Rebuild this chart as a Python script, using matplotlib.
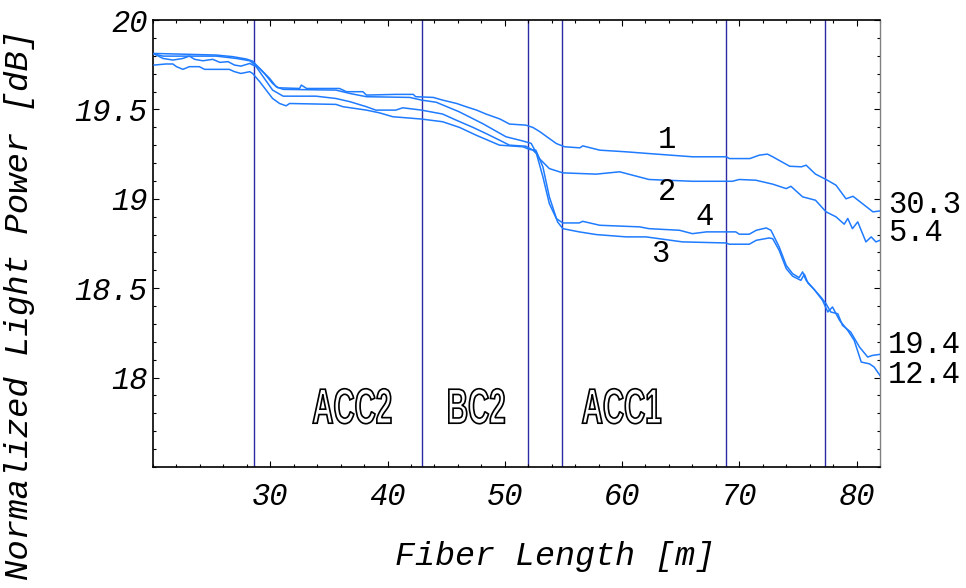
import numpy as np
import matplotlib
matplotlib.use('Agg')
from matplotlib import pyplot as plt
from matplotlib.textpath import TextPath
from matplotlib.patches import PathPatch
from matplotlib.font_manager import FontProperties
from matplotlib.transforms import Affine2D, ScaledTranslation
from matplotlib.ticker import MultipleLocator, FuncFormatter

# Curve 1 (top, ends 30.3)
c1_x = [20.1, 25.4, 26.8, 27.95, 28.5, 29.5, 30.2, 30.65, 32.5, 32.65, 33.1, 35.9, 36.5, 37.9,
        38.2, 40.7, 42.2, 42.4, 43.9, 44.7, 45.9, 46.7, 47.6, 48.4, 49.6, 50.4, 51.8, 52.4,
        53.0, 53.8, 54.4, 55.1, 56.4, 56.65, 58.1, 60.3, 62.3, 66.0, 68.9, 69.15, 70.9, 71.7,
        72.4, 72.85, 74.3, 75.3, 75.7, 76.5, 77.4, 78.25, 79.1, 79.7, 80.5, 81.4, 82.0]
c1_y = [19.813, 19.804, 19.795, 19.782, 19.77, 19.701, 19.645, 19.621, 19.617, 19.636, 19.617,
        19.617, 19.599, 19.599, 19.58, 19.584, 19.584, 19.571, 19.567, 19.552, 19.533, 19.515,
        19.496, 19.474, 19.446, 19.418, 19.412, 19.399, 19.375, 19.337, 19.309, 19.291, 19.285,
        19.296, 19.272, 19.263, 19.253, 19.235, 19.235, 19.225, 19.225, 19.244, 19.25, 19.235,
        19.182, 19.179, 19.188, 19.138, 19.108, 19.076, 19.0, 19.014, 18.973, 18.927, 18.932]

# Curve 2 (ends 5.4)
c2_x = [20.1, 20.85, 25.4, 27.1, 28.25, 29.1, 29.95, 30.5, 31.1, 35.6, 36.8, 38.2, 41.9, 42.9,
        44.15, 46.1, 48.1, 50.1, 51.5, 52.25, 52.95, 53.8, 54.95, 57.8, 59.8, 60.9, 62.3, 66.0,
        69.4, 70.0, 71.4, 72.85, 74.0, 74.4, 75.4, 76.5, 77.4, 78.25, 78.95, 79.25, 79.65, 80.1,
        80.8, 81.25, 81.65, 82.0]
c2_y = [19.81, 19.798, 19.798, 19.785, 19.772, 19.729, 19.673, 19.627, 19.612, 19.608, 19.589,
        19.571, 19.567, 19.552, 19.54, 19.487, 19.421, 19.347, 19.324, 19.31, 19.225, 19.169,
        19.145, 19.138, 19.151, 19.132, 19.108, 19.098, 19.098, 19.108, 19.104, 19.082, 19.057,
        19.07, 19.011, 18.992, 18.927, 18.899, 18.858, 18.89, 18.833, 18.871, 18.759, 18.787,
        18.759, 18.768]

# Curve 3 (lowest, ends 12.4)
c3_x = [20.1, 21.1, 21.7, 22.0, 22.55, 23.1, 23.95, 24.4, 26.5, 26.95, 27.5, 28.25, 28.5, 29.1,
        29.65, 30.2, 30.8, 31.35, 31.65, 35.6, 36.2, 38.2, 39.3, 40.45, 42.9, 44.7, 46.15, 47.55,
        49.55, 51.55, 52.1, 52.65, 53.25, 53.8, 54.5, 54.95, 56.35, 57.8, 60.35, 62.05, 65.15,
        68.85, 69.15, 70.85, 71.45, 72.55, 72.85, 73.4, 74.0, 74.55, 75.25, 75.55, 75.85, 76.4,
        77.1, 77.55, 77.95, 78.55, 79.25, 79.8, 80.4, 81.1, 81.5, 82.0]
c3_y = [19.748, 19.754, 19.754, 19.739, 19.724, 19.739, 19.739, 19.724, 19.724, 19.711, 19.701,
        19.711, 19.701, 19.655, 19.608, 19.561, 19.533, 19.52, 19.533, 19.528, 19.515, 19.496,
        19.481, 19.459, 19.446, 19.431, 19.399, 19.356, 19.3, 19.291, 19.276, 19.272, 19.179,
        19.011, 18.871, 18.833, 18.815, 18.8, 18.787, 18.787, 18.759, 18.753, 18.746, 18.746,
        18.768, 18.781, 18.777, 18.712, 18.61, 18.567, 18.544, 18.578, 18.529, 18.492, 18.432,
        18.367, 18.395, 18.32, 18.264, 18.208, 18.087, 18.077, 18.059, 18.012]

# Curve 4 (ends 19.4)
c4_x = [20.1, 20.85, 21.7, 22.55, 23.1, 23.55, 24.25, 25.1, 25.7, 26.4, 26.95, 27.5, 28.25, 28.8,
        29.5, 30.2, 31.1, 33.9, 35.6, 36.8, 38.2, 39.0, 40.7, 41.3, 42.9, 44.7, 45.85, 47.3,
        48.4, 49.55, 50.4, 51.8, 52.4, 52.7, 53.25, 53.8, 54.4, 54.95, 56.35, 56.65, 58.1, 61.5,
        62.3, 64.9, 66.0, 67.2, 69.7, 70.0, 70.85, 71.45, 72.3, 72.7, 73.4, 74.0, 74.55, 75.1,
        75.4, 75.7, 76.25, 76.95, 77.4, 77.8, 78.4, 78.8, 79.5, 80.25, 80.95, 81.35, 82.0]
c4_y = [19.81, 19.785, 19.776, 19.785, 19.798, 19.78, 19.772, 19.78, 19.763, 19.767, 19.748,
        19.742, 19.757, 19.739, 19.673, 19.608, 19.574, 19.574, 19.561, 19.543, 19.515, 19.496,
        19.496, 19.509, 19.496, 19.474, 19.44, 19.399, 19.365, 19.328, 19.3, 19.294, 19.272,
        19.253, 19.123, 18.973, 18.889, 18.865, 18.865, 18.874, 18.852, 18.843, 18.833, 18.824,
        18.805, 18.815, 18.815, 18.802, 18.802, 18.824, 18.837, 18.824, 18.731, 18.628, 18.581,
        18.559, 18.591, 18.544, 18.503, 18.451, 18.413, 18.367, 18.357, 18.292, 18.255, 18.171,
        18.115, 18.124, 18.13]

# Section boundaries and names
boundaries = [28.6, 42.9, 52.0, 54.9, 68.9, 77.3]
section_names = ['ACC2', 'BC2', 'ACC1']
section_x = [36.97, 47.6, 59.96]

# Curve numbers and end values
curve_nums = ['1', '2', '4', '3']
num_pos = [(63.8, 19.33), (63.84, 19.04), (67.08, 18.90), (63.24, 18.69)]
end_labels = ['30.3', '5.4', '19.4', '12.4']
end_y = [18.968, 18.809, 18.184, 18.016]

mono = 'Liberation Mono'
line_col = '#1f7bff'
vcol = '#2b2ba5'


def outline_label(ax, text, x, y, sx, sy):
    # hollow bold letters, squeezed horizontally
    fp = FontProperties(family='Liberation Sans', weight='bold')
    tp = TextPath((0, 0), text, size=1, prop=fp)
    bb = tp.get_extents()
    tr = (Affine2D().translate(-bb.x0 - bb.width / 2, -bb.y0 - bb.height / 2).scale(sx, sy)
          + ScaledTranslation(x, y, ax.transData))
    ax.add_patch(PathPatch(tp, transform=tr, facecolor='white', edgecolor='black',
                           lw=1.2, zorder=5, clip_on=False))


fig = plt.figure(figsize=(9.66, 5.88), dpi=100)
ax = fig.add_axes([153 / 966, 1 - 467 / 588, 727 / 966, 447 / 588])

for b in boundaries:
    ax.axvline(b, color=vcol, lw=1.0, zorder=1)

for xs, ys in [(c1_x, c1_y), (c2_x, c2_y), (c3_x, c3_y), (c4_x, c4_y)]:
    ax.plot(xs, ys, color=line_col, lw=1.1, zorder=3)

ax.set_xlim(20, 82)
ax.set_ylim(17.5, 20)

ax.set_xticks([30, 40, 50, 60, 70, 80])
ax.xaxis.set_minor_locator(MultipleLocator(2))
ax.set_yticks([18, 18.5, 19, 19.5, 20])
ax.yaxis.set_minor_locator(MultipleLocator(0.1))
ax.yaxis.set_major_formatter(FuncFormatter(lambda v, p: '%g' % v))

ax.tick_params(which='both', direction='in', top=True, right=True, color='black', width=0.8)
ax.tick_params(which='major', length=4.5)
ax.tick_params(which='minor', length=2.5)
ax.tick_params(axis='x', pad=11)
ax.tick_params(axis='y', pad=4)
for lab in ax.get_xticklabels() + ax.get_yticklabels():
    lab.set_fontfamily(mono)
    lab.set_fontstyle('italic')
    lab.set_fontsize(22)

for side in ['left', 'bottom', 'top']:
    ax.spines[side].set_linewidth(1.2)
    ax.spines[side].set_color('black')
ax.spines['right'].set_linewidth(1.0)
ax.spines['right'].set_color('#808080')

# section names
fp = FontProperties(family='Liberation Sans', weight='bold')
bb0 = TextPath((0, 0), 'ACC2', size=1, prop=fp).get_extents()
sx = 78 / bb0.width
sy = 35 / bb0.height
for name, xs in zip(section_names, section_x):
    outline_label(ax, name, xs, 17.84, sx, sy)

for num, (xp, yp) in zip(curve_nums, num_pos):
    ax.text(xp, yp, num, family=mono, fontsize=22, ha='center', va='center', zorder=6)

for lab, yp in zip(end_labels, end_y):
    ax.text(82.7, yp, lab, family=mono, fontsize=22, ha='left', va='center', clip_on=False)

fig.text(555 / 966, 1 - 557 / 588, 'Fiber Length [m]', family=mono, style='italic',
         fontsize=24, ha='center', va='center')
fig.text(20 / 966, 1 - 305 / 588, 'Normalized Light Power [dB]', family=mono, style='italic',
         fontsize=24.5, ha='center', va='center', rotation=90)

fig.savefig('out.png', dpi=100)
